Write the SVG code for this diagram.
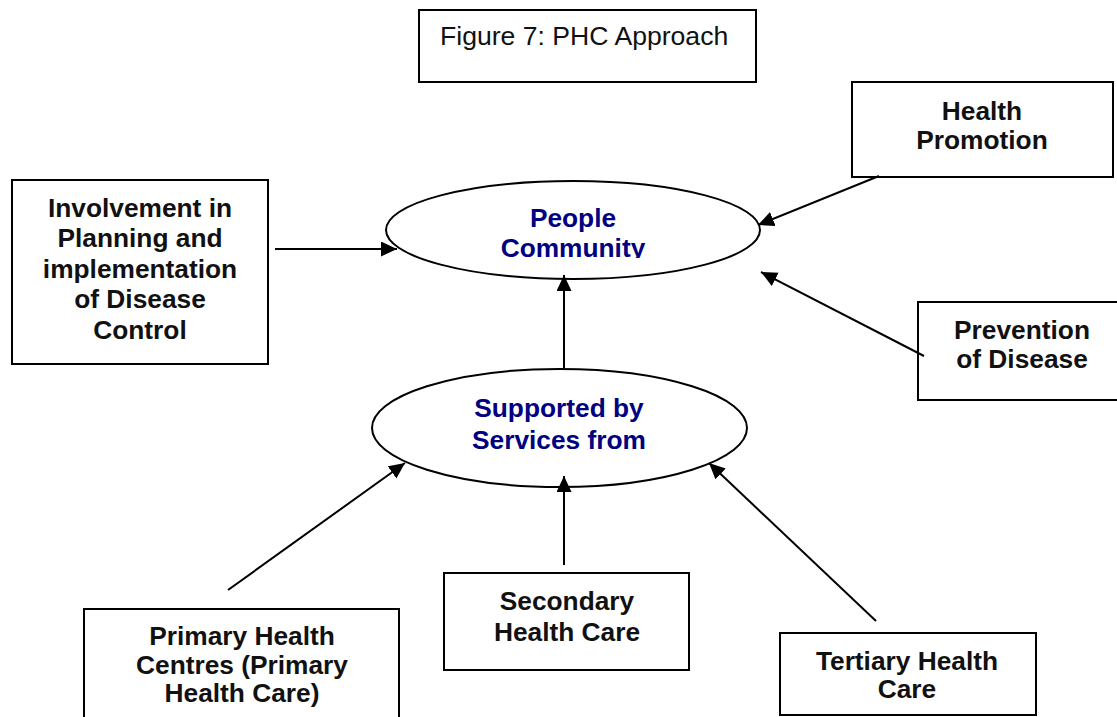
<svg xmlns="http://www.w3.org/2000/svg" width="1117" height="717" viewBox="0 0 1117 717">
<style>
.box{fill:#fff;stroke:#000;stroke-width:2}
.ell{fill:#fff;stroke:#000;stroke-width:2}
.t{font-family:"Liberation Sans",Arial,sans-serif;font-size:26.3px;font-weight:bold;fill:#111;text-anchor:middle}
.n{fill:#000080}
.title{font-family:"Liberation Sans",Arial,sans-serif;font-size:26.6px;fill:#111}
.c{stroke:#000;stroke-width:2;fill:none;marker-end:url(#ah)}
</style>
<defs>
<marker id="ah" markerUnits="userSpaceOnUse" markerWidth="17" markerHeight="16" refX="16" refY="7.5" orient="auto">
<path d="M0,0 L16,7.5 L0,15 z" fill="#000"/>
</marker>
<clipPath id="clipC"><rect x="380" y="150" width="390" height="108"/></clipPath>
</defs>
<rect width="1117" height="717" fill="#fff"/>
<g id="title">
<rect class="box" x="419" y="10" width="337" height="72"/>
<text class="title" x="440" y="45">Figure 7: PHC Approach</text>
</g>
<g id="people">
<ellipse class="ell" cx="573" cy="230" rx="187" ry="49"/>
<text class="t n" x="573" y="227">People</text>
<text class="t n" x="573" y="257" clip-path="url(#clipC)">Community</text>
</g>
<g id="involvement">
<rect class="box" x="12" y="180" width="256" height="184"/>
<text class="t" x="140" y="217">Involvement in</text>
<text class="t" x="140" y="247">Planning and</text>
<text class="t" x="140" y="278">implementation</text>
<text class="t" x="140" y="308">of Disease</text>
<text class="t" x="140" y="339">Control</text>
</g>
<g id="promotion">
<rect class="box" x="852" y="82" width="261" height="95"/>
<text class="t" x="982" y="120">Health</text>
<text class="t" x="982" y="149">Promotion</text>
</g>
<g id="prevention">
<rect class="box" x="918" y="302" width="205" height="98"/>
<text class="t" x="1022" y="339">Prevention</text>
<text class="t" x="1022" y="368">of Disease</text>
</g>
<g id="supported">
<ellipse class="ell" cx="559.5" cy="428" rx="187.5" ry="59"/>
<text class="t n" x="559" y="417">Supported by</text>
<text class="t n" x="559" y="449">Services from</text>
</g>
<g id="primary">
<rect class="box" x="84" y="609" width="315" height="120"/>
<text class="t" x="242" y="645">Primary Health</text>
<text class="t" x="242" y="674">Centres (Primary</text>
<text class="t" x="242" y="702">Health Care)</text>
</g>
<g id="secondary">
<rect class="box" x="444" y="573" width="245" height="97"/>
<text class="t" x="567" y="610">Secondary</text>
<text class="t" x="567" y="641">Health Care</text>
</g>
<g id="tertiary">
<rect class="box" x="780" y="633" width="256" height="82"/>
<text class="t" x="907" y="670">Tertiary Health</text>
<text class="t" x="907" y="698">Care</text>
</g>
<g id="connectors">
<line class="c" x1="275" y1="249" x2="397" y2="249"/>
<line class="c" x1="879" y1="176" x2="758" y2="225"/>
<line class="c" x1="924" y1="356" x2="761" y2="272"/>
<line class="c" x1="564" y1="368" x2="564" y2="275"/>
<line class="c" x1="228" y1="590" x2="405" y2="463"/>
<line class="c" x1="564" y1="565" x2="564" y2="476"/>
<line class="c" x1="876" y1="621" x2="709" y2="463"/>
</g>
</svg>
